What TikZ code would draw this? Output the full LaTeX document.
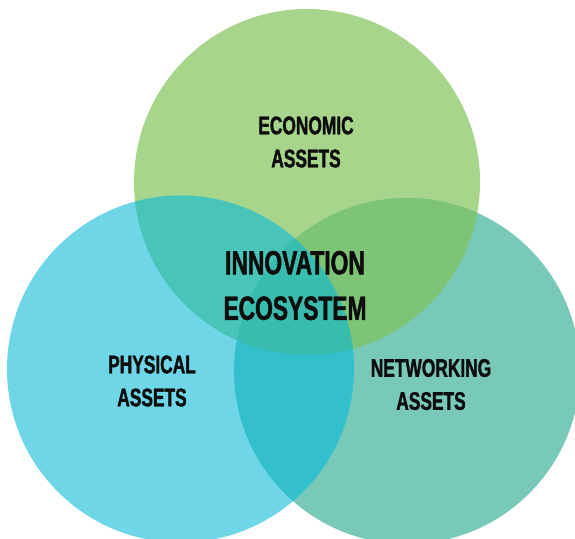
\documentclass[tikz,border=0pt]{standalone}
\usepackage{fontspec}
\newfontfamily\labelfont[FakeStretch=0.68,FakeBold=1.4]{Liberation Sans Bold}

\definecolor{econ}{HTML}{A6D58B}
\definecolor{phys}{HTML}{6ED6E7}
\definecolor{netw}{HTML}{79C9B9}
\definecolor{econphys}{HTML}{49C4B8}
\definecolor{econnetw}{HTML}{7EC476}
\definecolor{physnetw}{HTML}{34BFCC}
\definecolor{allthree}{HTML}{38BCAE}

\tikzset{
  asset/.style={align=center, text=black!95, font=\labelfont\fontsize{25.5}{33}\selectfont},
  core/.style={align=center, text=black!95, font=\labelfont\fontsize{33.5}{45.5}\selectfont}
}

\begin{document}
\begin{tikzpicture}[x=1pt, y=-1pt]
            \useasboundingbox (0,0) rectangle (575,538);
            \coordinate (E) at (307,182);
            \coordinate (P) at (180.5,369);
            \coordinate (N) at (407,371);

            % the three circles
            \fill[econ] (E) circle[radius=173pt];
            \fill[netw] (N) circle[radius=173pt];
            \fill[phys] (P) circle[radius=173.5pt];

            % overlaps
            \begin{scope}
              \clip (E) circle[radius=173pt];
              \fill[econphys] (P) circle[radius=173.5pt];
              \fill[econnetw] (N) circle[radius=173pt];
            \end{scope}
            \begin{scope}
              \clip (P) circle[radius=173.5pt];
              \fill[physnetw] (N) circle[radius=173pt];
              \clip (E) circle[radius=173pt];
              \fill[allthree] (N) circle[radius=173pt];
            \end{scope}

            \node[asset] (econlabel) at (306,142) {ECONOMIC\\ASSETS};
            \node[asset] (physlabel) at (152,381) {PHYSICAL\\ASSETS};
            \node[asset] (netwlabel) at (431,384.5) {NETWORKING\\ASSETS};
            \node[core] (corelabel) at (295,285.5) {INNOVATION\\ECOSYSTEM};
        \end{tikzpicture}
\end{document}
